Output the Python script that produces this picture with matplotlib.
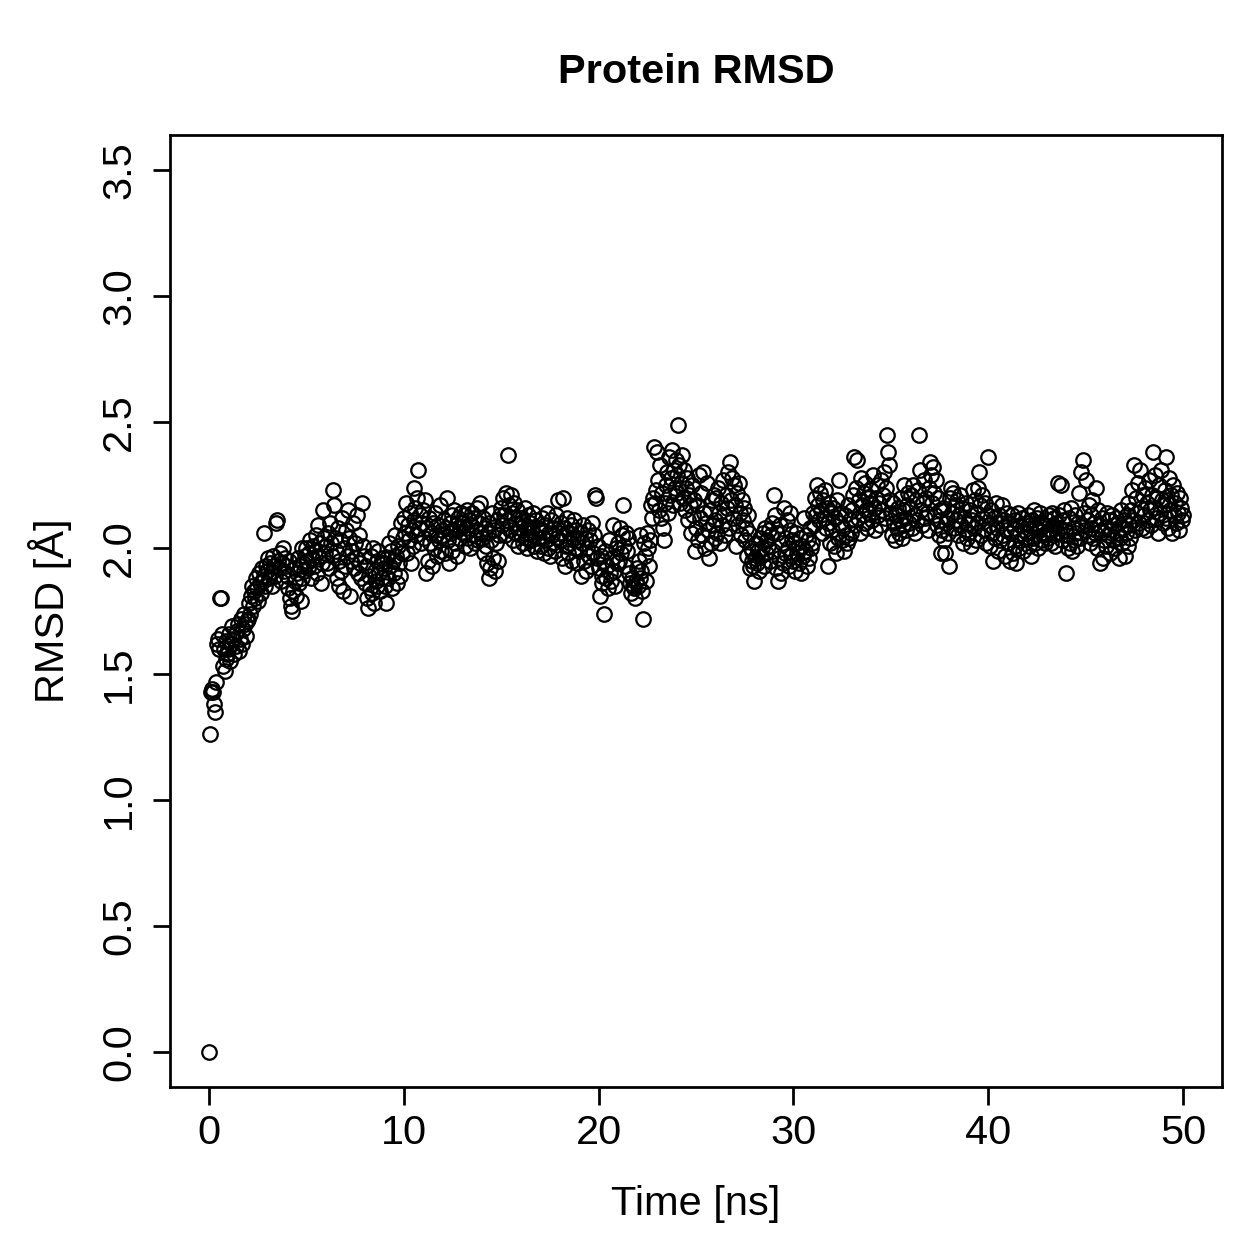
import numpy as np
import matplotlib
matplotlib.use("Agg")
import matplotlib.pyplot as plt

# RMSD per frame (Å), 20 frames per ns
rmsd = [
    0.00, 1.26, 1.43, 1.44, 1.43, 1.38, 1.35, 1.47, 1.62, 1.64, 1.60, 1.80, 1.80, 1.66, 1.53, 1.60, 1.51, 1.56, 1.63, 1.58,
    1.60, 1.66, 1.55, 1.62, 1.69, 1.64, 1.58, 1.66, 1.61, 1.67, 1.70, 1.59, 1.64, 1.72, 1.62, 1.68, 1.74, 1.70, 1.65, 1.71,
    1.72, 1.78, 1.74, 1.81, 1.85, 1.77, 1.83, 1.80, 1.88, 1.84, 1.79, 1.90, 1.86, 1.82, 1.92, 1.87, 2.06, 1.89, 1.85, 1.93,
    1.91, 1.96, 1.88, 1.94, 1.90, 1.85, 1.97, 1.93, 1.89, 2.10, 2.11, 1.95, 1.92, 1.98, 1.87, 1.94, 2.00, 1.91, 1.96, 1.93,
    1.89, 1.84, 1.95, 1.80, 1.77, 1.75, 1.83, 1.92, 1.87, 1.81, 1.90, 1.96, 1.86, 1.93, 1.79, 1.88, 2.00, 1.94, 1.91, 1.97,
    2.00, 1.95, 1.92, 1.98, 2.03, 1.88, 1.96, 2.01, 1.93, 1.99, 2.05, 1.90, 2.09, 1.97, 2.02, 1.86, 1.94, 2.15, 2.04, 1.98,
    2.01, 1.94, 2.06, 1.92, 2.10, 2.02, 1.97, 2.23, 2.17, 2.04, 1.99, 1.88, 2.08, 1.95, 1.85, 2.03, 1.91, 2.12, 1.83, 2.00,
    1.93, 2.07, 1.97, 2.15, 2.04, 1.81, 1.95, 1.99, 2.10, 1.92, 2.02, 1.96, 2.13, 1.90, 2.05, 1.94, 1.88, 2.18, 2.01, 1.97,
    1.86, 1.93, 1.80, 1.76, 1.89, 1.84, 1.97, 1.82, 2.00, 1.78, 1.91, 1.87, 1.95, 1.85, 1.99, 1.90, 1.83, 1.94, 1.88, 1.96,
    1.92, 1.85, 1.78, 1.96, 1.88, 2.02, 1.93, 1.99, 1.84, 1.95, 1.90, 2.05, 1.97, 1.86, 2.01, 1.94, 1.89, 2.10, 1.98, 2.04,
    2.12, 2.06, 2.18, 1.98, 2.09, 2.03, 2.14, 1.94, 2.07, 2.01, 2.11, 2.24, 2.16, 2.05, 2.20, 2.31, 2.08, 2.13, 2.02, 2.10,
    2.15, 2.04, 2.19, 1.90, 2.08, 1.95, 2.12, 2.02, 2.06, 1.93, 2.10, 2.00, 2.14, 2.05, 1.97, 2.09, 2.03, 2.17, 1.99, 2.07,
    2.05, 2.11, 1.98, 2.08, 2.20, 2.03, 1.94, 2.10, 2.06, 2.13, 1.99, 2.07, 2.15, 2.02, 2.09, 1.97, 2.12, 2.04, 2.08, 2.14,
    2.10, 2.06, 2.13, 2.01, 2.08, 2.15, 2.04, 2.11, 2.00, 2.09, 2.14, 2.05, 2.12, 2.02, 2.07, 2.16, 2.03, 2.10, 2.18, 2.06,
    2.04, 2.12, 1.98, 2.08, 2.01, 1.94, 2.06, 1.88, 2.10, 1.92, 2.03, 2.14, 1.96, 2.07, 1.91, 2.02, 2.11, 1.95, 2.05, 2.13,
    2.16, 2.09, 2.20, 2.13, 2.05, 2.22, 2.11, 2.37, 2.17, 2.07, 2.21, 2.14, 2.03, 2.18, 2.10, 2.06, 2.15, 2.01, 2.12, 2.08,
    2.05, 2.12, 2.02, 2.09, 2.16, 2.04, 2.08, 2.00, 2.13, 2.06, 2.10, 2.03, 2.07, 2.14, 2.01, 2.05, 2.11, 1.99, 2.08, 2.04,
    2.07, 2.01, 2.12, 2.04, 1.98, 2.09, 2.03, 2.14, 2.00, 2.06, 1.97, 2.11, 2.05, 2.02, 2.08, 1.99, 2.13, 2.04, 2.19, 2.06,
    2.03, 2.10, 1.96, 2.20, 2.05, 1.93, 2.08, 2.01, 2.12, 1.98, 2.06, 2.02, 2.09, 1.95, 2.04, 2.11, 2.00, 2.07, 1.94, 2.03,
    1.99, 2.06, 1.89, 2.02, 2.09, 1.95, 2.04, 1.91, 2.00, 2.07, 1.97, 2.03, 1.93, 2.10, 1.98, 2.05, 2.21, 2.20, 1.96, 2.01,
    1.92, 1.81, 1.97, 1.86, 1.89, 1.95, 1.74, 1.99, 1.88, 1.93, 1.84, 2.03, 1.90, 1.87, 1.96, 2.09, 1.91, 1.85, 2.00, 1.94,
    2.02, 1.95, 2.08, 1.98, 2.05, 2.17, 2.01, 1.93, 2.06, 1.99, 2.04, 1.90, 1.86, 1.82, 1.88, 1.85, 1.84, 1.80, 1.87, 1.92,
    1.85, 1.95, 1.88, 2.05, 1.91, 1.83, 1.72, 2.02, 1.97, 1.87, 2.06, 2.00, 1.93, 2.03, 2.17, 2.12, 2.20, 2.40, 2.18, 2.23,
    2.38, 2.27, 2.15, 2.33, 2.12, 2.22, 2.08, 2.03, 2.18, 2.25, 2.30, 2.14, 2.36, 2.21, 2.28, 2.39, 2.17, 2.31, 2.24, 2.35,
    2.29, 2.22, 2.49, 2.33, 2.18, 2.26, 2.37, 2.20, 2.31, 2.15, 2.24, 2.28, 2.11, 2.21, 2.17, 2.06, 2.25, 2.13, 2.19, 1.99,
    2.08, 2.17, 2.03, 2.29, 2.12, 2.22, 2.05, 2.30, 2.14, 2.00, 2.10, 2.26, 2.07, 1.96, 2.15, 2.02, 2.19, 2.09, 2.21, 2.04,
    2.11, 2.20, 2.06, 2.24, 2.14, 2.02, 2.18, 2.09, 2.27, 2.13, 2.05, 2.21, 2.16, 2.30, 2.08, 2.34, 2.19, 2.28, 2.12, 2.25,
    2.17, 2.01, 2.22, 2.09, 2.26, 2.14, 2.05, 2.19, 2.11, 2.16, 2.03, 2.08, 1.97, 2.13, 2.06, 1.92, 2.00, 1.95, 1.99, 1.93,
    1.87, 1.96, 2.02, 1.94, 1.99, 1.91, 2.04, 1.97, 2.00, 2.06, 1.93, 2.08, 1.98, 2.03, 2.01, 2.07, 1.95, 2.05, 2.10, 1.99,
    2.21, 2.13, 1.92, 2.06, 1.87, 1.96, 2.09, 1.90, 2.02, 1.94, 2.16, 1.98, 2.04, 2.11, 2.00, 1.93, 2.07, 2.14, 1.97, 2.03,
    1.95, 2.02, 1.91, 2.06, 1.98, 2.00, 1.94, 2.04, 1.90, 2.01, 1.97, 2.12, 1.99, 2.05, 1.93, 2.03, 1.96, 2.08, 2.00, 2.02,
    2.14, 2.09, 2.20, 2.13, 2.25, 2.17, 2.11, 2.22, 2.15, 2.06, 2.19, 2.12, 2.23, 2.08, 2.16, 1.93, 2.10, 2.18, 2.02, 2.14,
    2.07, 2.16, 2.01, 2.12, 1.98, 2.19, 2.04, 2.27, 2.10, 2.14, 2.03, 2.08, 1.99, 2.13, 2.05, 2.02, 2.17, 2.04, 2.11, 2.06,
    2.15, 2.21, 2.36, 2.09, 2.24, 2.35, 2.12, 2.19, 2.06, 2.28, 2.17, 2.13, 2.22, 2.10, 2.26, 2.15, 2.08, 2.20, 2.14, 2.18,
    2.23, 2.11, 2.29, 2.16, 2.07, 2.20, 2.25, 2.13, 2.18, 2.09, 2.27, 2.15, 2.21, 2.30, 2.12, 2.24, 2.45, 2.38, 2.33, 2.19,
    2.14, 2.05, 2.18, 2.10, 2.03, 2.13, 2.08, 2.16, 2.06, 2.11, 2.20, 2.04, 2.15, 2.09, 2.25, 2.12, 2.07, 2.17, 2.22, 2.10,
    2.16, 2.21, 2.08, 2.25, 2.13, 2.06, 2.19, 2.11, 2.23, 2.45, 2.31, 2.15, 2.09, 2.18, 2.27, 2.12, 2.20, 2.14, 2.07, 2.24,
    2.34, 2.29, 2.18, 2.32, 2.22, 2.13, 2.27, 2.09, 2.20, 2.05, 2.15, 2.11, 1.98, 2.07, 2.16, 2.03, 1.98, 2.10, 2.12, 2.06,
    1.93, 2.20, 2.24, 2.14, 2.22, 2.08, 2.17, 2.11, 2.19, 2.05, 2.13, 2.21, 2.09, 2.16, 2.02, 2.12, 2.07, 2.18, 2.04, 2.10,
    2.06, 2.15, 2.01, 2.11, 2.23, 2.08, 2.19, 2.03, 2.14, 2.24, 2.10, 2.30, 2.17, 2.05, 2.21, 2.12, 2.07, 2.18, 2.02, 2.13,
    2.36, 2.09, 2.01, 2.15, 2.06, 1.95, 2.12, 2.04, 2.18, 2.08, 1.99, 2.13, 2.03, 2.10, 2.17, 2.05, 2.11, 1.97, 2.07, 2.14,
    2.02, 2.10, 1.95, 2.06, 2.13, 1.98, 2.08, 2.01, 2.11, 1.94, 2.05, 2.14, 2.00, 2.09, 2.03, 2.12, 1.99, 2.07, 2.04, 2.10,
    2.06, 2.13, 2.01, 2.09, 1.97, 2.11, 2.04, 2.15, 2.02, 2.08, 2.12, 2.00, 2.07, 2.14, 2.03, 2.10, 2.05, 2.09, 2.02, 2.06,
    2.11, 2.04, 2.13, 2.07, 2.02, 2.14, 2.09, 2.05, 2.12, 2.01, 2.10, 2.06, 2.26, 2.13, 2.08, 2.25, 2.03, 2.11, 2.15, 2.07,
    1.90, 2.05, 2.00, 2.12, 2.02, 2.16, 1.99, 2.08, 2.03, 2.13, 2.06, 2.01, 2.10, 2.22, 2.04, 2.30, 2.09, 2.35, 2.14, 2.07,
    2.27, 2.11, 2.05, 2.17, 2.02, 2.13, 2.08, 2.19, 2.04, 2.10, 2.06, 2.24, 2.00, 2.15, 2.09, 1.94, 2.07, 2.12, 1.96, 2.03,
    2.08, 2.01, 2.14, 2.05, 2.11, 1.98, 2.07, 2.13, 2.03, 2.09, 2.00, 2.12, 2.06, 2.10, 1.96, 2.04, 2.15, 2.02, 2.08, 2.11,
    1.97, 2.06, 2.13, 2.01, 2.18, 2.09, 2.04, 2.15, 2.23, 2.11, 2.33, 2.07, 2.20, 2.14, 2.26, 2.10, 2.31, 2.16, 2.08, 2.21,
    2.13, 2.24, 2.07, 2.18, 2.11, 2.27, 2.15, 2.09, 2.21, 2.38, 2.16, 2.29, 2.12, 2.20, 2.06, 2.25, 2.14, 2.31, 2.19, 2.10,
    2.17, 2.23, 2.12, 2.36, 2.19, 2.08, 2.28, 2.15, 2.21, 2.06, 2.25, 2.13, 2.18, 2.10, 2.22, 2.14, 2.07, 2.20, 2.16, 2.11,
    2.13,
]
time_ns = np.linspace(0, 50, len(rmsd))

x_ticks = [0, 10, 20, 30, 40, 50]
y_ticks = [0.0, 0.5, 1.0, 1.5, 2.0, 2.5, 3.0, 3.5]

FS = 16.6
plt.rcParams["font.family"] = ["Liberation Sans", "DejaVu Sans"]
plt.rcParams["font.size"] = FS

fig = plt.figure(figsize=(1259 / 180, 1259 / 180), dpi=180)
ax = fig.add_axes([170 / 1259, 1 - 1087 / 1259, (1222 - 170) / 1259, (1087 - 135) / 1259])

ax.plot(time_ns, rmsd, linestyle="none", marker="o", markersize=5.8,
        markerfacecolor="none", markeredgecolor="black", markeredgewidth=0.9)

ax.set_xlim(-2, 52)
ax.set_ylim(-0.14, 3.64)
ax.set_xticks(x_ticks)
ax.set_yticks(y_ticks)
ax.set_yticklabels([f"{v:.1f}" for v in y_ticks], rotation=90, va="center")
ax.tick_params(direction="out", length=7.0, width=1.1, labelsize=FS)
ax.tick_params(axis="x", pad=4.0)
ax.tick_params(axis="y", pad=5.7)
for s in ax.spines.values():
    s.set_linewidth(1.1)

ax.set_xlabel("Time [ns]", fontsize=FS)
ax.set_ylabel("RMSD [Å]", fontsize=FS)
ax.xaxis.set_label_coords(0.5, -0.103)
ax.yaxis.set_label_coords(-0.093, 0.5)
ax.set_title("Protein RMSD", fontsize=FS, fontweight="bold", pad=20.8)

fig.savefig("out.png", dpi=180)
